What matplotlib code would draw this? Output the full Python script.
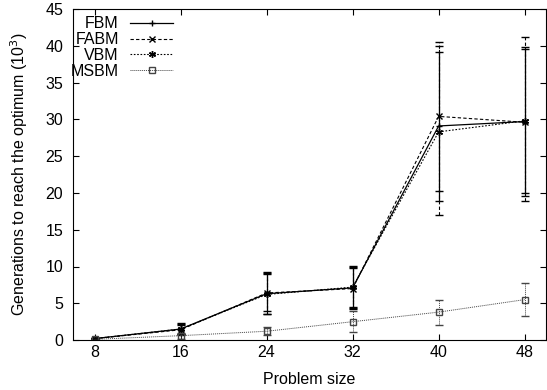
import matplotlib
matplotlib.use("Agg")
import matplotlib.pyplot as plt
from matplotlib.lines import Line2D

plt.rcParams['font.family'] = ['Liberation Sans', 'DejaVu Sans']

sizes = [8, 16, 24, 32, 40, 48]

fbm = [0.2, 1.5, 6.3, 7.1, 29.1, 29.7]
fbm_lo = [0.1, 0.8, 3.9, 4.5, 18.9, 20.0]
fbm_hi = [0.3, 2.1, 9.0, 9.8, 39.1, 39.6]

fabm = [0.2, 1.4, 6.4, 7.0, 30.4, 29.6]
fabm_lo = [0.1, 0.7, 3.5, 4.2, 17.0, 18.9]
fabm_hi = [0.3, 2.2, 9.3, 10.1, 40.5, 41.2]

vbm = [0.2, 1.5, 6.2, 7.2, 28.3, 29.8]
vbm_lo = [0.1, 0.8, 3.6, 4.3, 20.3, 19.6]
vbm_hi = [0.3, 2.3, 9.1, 9.9, 40.0, 39.8]

msbm = [0.1, 0.6, 1.2, 2.5, 3.8, 5.5]
msbm_lo = [0.05, 0.2, 0.7, 1.1, 2.0, 3.3]
msbm_hi = [0.2, 1.0, 1.8, 4.0, 5.4, 7.7]

series = [
    ("FBM", fbm, fbm_lo, fbm_hi, '-', '+', 'black', 0.9),
    ("FABM", fabm, fabm_lo, fabm_hi, (0, (3, 2)), 'x', 'black', 0.8),
    ("VBM", vbm, vbm_lo, vbm_hi, (0, (1.5, 1.5)), (6, 2, 0), 'black', 0.8),
    ("MSBM", msbm, msbm_lo, msbm_hi, (0, (1, 1)), 's', '#444444', 0.7),
]

fig = plt.figure(figsize=(5.47, 3.90), dpi=100)
ax = fig.add_axes([0.1335, 0.128, 0.865, 0.849])

handles = []
for name, y, lo, hi, ls, mk, col, lw in series:
    err = [[v - l for v, l in zip(y, lo)], [h - v for v, h in zip(y, hi)]]
    mfc = 'none' if mk == 's' else col
    ms = 4 if mk == 's' else 5
    eb = ax.errorbar(sizes, y, yerr=err, color=col, linestyle=ls, linewidth=lw,
                     marker=mk, markersize=ms, mfc=mfc, mec=col,
                     mew=1.0, capsize=3, elinewidth=lw, capthick=lw)
    for c in eb[2]:
        c.set_linestyle(ls)
    handles.append(Line2D([], [], color=col, linestyle=ls, linewidth=lw,
                          marker=mk, markersize=ms, mfc=mfc, mec=col, mew=1.0,
                          label=name))

ax.set_xlim(6, 50)
ax.set_ylim(0, 45)
ax.set_xticks(sizes)
ax.set_yticks(range(0, 46, 5))
ax.tick_params(direction='in', top=True, right=True, labelsize=11.5, length=4)
ax.tick_params(axis='y', pad=7)
ax.set_xlabel("Problem size", fontsize=11.5, labelpad=9)
ax.set_ylabel("Generations to reach the optimum (10$^3$)", fontsize=11.5, labelpad=11)

ax.legend(handles=handles, loc='upper left', bbox_to_anchor=(-0.01, 0.985),
          frameon=False, markerfirst=False, fontsize=11.5, handlelength=2.7,
          borderaxespad=0.05, labelspacing=0.05, handletextpad=0.7, borderpad=0.1)

fig.savefig("out.png", dpi=100)
